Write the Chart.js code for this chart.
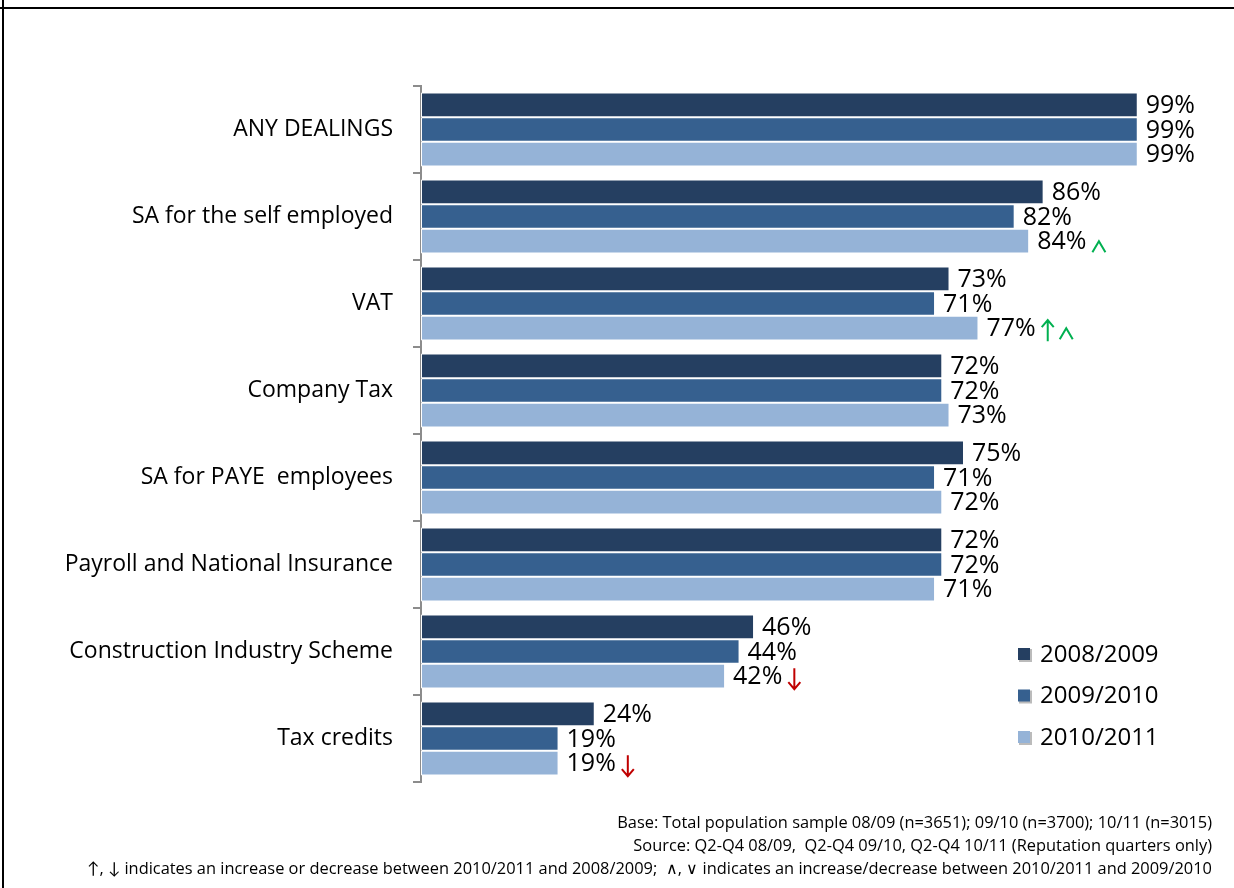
<!DOCTYPE html>
<html>
<head>
<meta charset="utf-8">
<title>Dealings by tax type</title>
<script src="https://cdn.jsdelivr.net/npm/chart.js@4.4.1/dist/chart.umd.min.js"></script>
<style>
  body { margin: 0; background: #fff; font-family: "Open Sans", Lato, sans-serif; }
  #wrap { position: relative; width: 1234px; height: 888px; overflow: hidden; }
  #frameTop { position: absolute; left: 0; top: 7px; width: 1234px; height: 2px; background: #000; }
  #frameLeft { position: absolute; left: 2px; top: 0; width: 2px; height: 888px; background: #000; }
  #notes { position: absolute; right: 22px; top: 810px; text-align: right; font-size: 16.4px; line-height: 23px; color: #000; }
</style>
</head>
<body>
<div id="wrap">
  <canvas id="chart" width="1234" height="888"></canvas>
  <div id="frameTop"></div>
  <div id="frameLeft"></div>
  <div id="notes">
    <div>Base: Total population sample 08/09 (n=3651); 09/10 (n=3700); 10/11 (n=3015)</div>
    <div>Source: Q2-Q4 08/09,&nbsp; Q2-Q4 09/10, Q2-Q4 10/11 (Reputation quarters only)</div>
    <div>↑, ↓ indicates an increase or decrease between 2010/2011 and 2008/2009;&nbsp; ∧, ∨ indicates an increase/decrease between 2010/2011 and 2009/2010</div>
  </div>
</div>
<script>
const categories = [
  'ANY DEALINGS',
  'SA for the self employed',
  'VAT',
  'Company Tax',
  'SA for PAYE  employees',
  'Payroll and National Insurance',
  'Construction Industry Scheme',
  'Tax credits'
];
const years = ['2008/2009', '2009/2010', '2010/2011'];
const y0809 = [99, 86, 73, 72, 75, 72, 46, 24];
const y0910 = [99, 82, 71, 72, 71, 72, 44, 19];
const y1011 = [99, 84, 77, 73, 72, 71, 42, 19];
// significance flags shown after the 2010/2011 labels
// U/D = arrow vs 2008/2009, u/d = chevron vs 2009/2010
const change1011 = ['', 'u', 'Uu', '', '', '', 'D', 'D'];

const colors = ['#253F61', '#36608F', '#95B3D7'];
const FONT = '"Open Sans", Lato, sans-serif';

function drawFlag(ctx, kind, x, y) {
  const up = kind === 'U' || kind === 'u';
  ctx.strokeStyle = up ? '#00B050' : '#C00000';
  ctx.lineWidth = 2;
  ctx.beginPath();
  if (kind === 'U' || kind === 'D') {
    const tip = up ? y - 10 : y + 11;
    const tail = up ? y + 11 : y - 10;
    const dir = up ? 1 : -1;
    ctx.moveTo(x + 6, tail); ctx.lineTo(x + 6, tip);
    ctx.moveTo(x, tip + dir * 7); ctx.lineTo(x + 6, tip); ctx.lineTo(x + 12, tip + dir * 7);
    ctx.stroke();
    return 18;
  }
  if (up) {
    ctx.moveTo(x, y + 9); ctx.lineTo(x + 6.5, y - 2); ctx.lineTo(x + 13, y + 9);
  } else {
    ctx.moveTo(x, y - 2); ctx.lineTo(x + 6.5, y + 9); ctx.lineTo(x + 13, y - 2);
  }
  ctx.stroke();
  return 18;
}

const valueLabels = {
  id: 'valueLabels',
  afterDatasetsDraw(chart) {
    const ctx = chart.ctx;
    ctx.save();
    ctx.textBaseline = 'middle';
    chart.data.datasets.forEach((ds, di) => {
      const meta = chart.getDatasetMeta(di);
      meta.data.forEach((bar, i) => {
        const txt = ds.data[i] + '%';
        ctx.font = '25px ' + FONT;
        ctx.fillStyle = '#000';
        ctx.textAlign = 'left';
        const x = bar.x + 8;
        ctx.fillText(txt, x, bar.y + 1);
        if (di === 2 && change1011[i]) {
          let cx = x + ctx.measureText(txt).width + 6;
          for (const ch of change1011[i]) {
            cx += drawFlag(ctx, ch, cx, bar.y + 2);
          }
        }
      });
    });
    ctx.restore();
  }
};

const sideLegend = {
  id: 'sideLegend',
  afterDraw(chart) {
    const ctx = chart.ctx;
    ctx.save();
    ctx.textBaseline = 'middle';
    ctx.font = '24px ' + FONT;
    chart.data.datasets.forEach((ds, di) => {
      const cy = 654 + di * 41.5;
      ctx.fillStyle = '#bbb';
      ctx.fillRect(1019, cy - 5, 13, 13);
      ctx.fillStyle = ds.backgroundColor;
      ctx.fillRect(1018, cy - 6, 12, 12);
      ctx.fillStyle = '#000';
      ctx.fillText(ds.label, 1040, cy + 1);
    });
    ctx.restore();
  }
};

new Chart(document.getElementById('chart'), {
  type: 'bar',
  data: {
    labels: categories,
    datasets: [
      { label: years[0], data: y0809, backgroundColor: colors[0] },
      { label: years[1], data: y0910, backgroundColor: colors[1] },
      { label: years[2], data: y1011, backgroundColor: colors[2] }
    ].map(d => Object.assign(d, {
      borderColor: '#ffffff', borderWidth: 1, borderSkipped: false,
      categoryPercentage: 0.85, barPercentage: 1.0
    }))
  },
  options: {
    indexAxis: 'y',
    responsive: false,
    animation: false,
    layout: { padding: { top: 86, bottom: 106, right: 89, left: 0 } },
    plugins: { legend: { display: false }, tooltip: { enabled: false } },
    scales: {
      x: { display: false, min: 0, max: 100 },
      y: {
        afterFit(scale) { scale.width = 421; },
        border: { color: '#8c8c8c', width: 2 },
        grid: { drawOnChartArea: false, tickLength: 8, color: '#8c8c8c', lineWidth: 2 },
        ticks: { padding: 20, color: '#000', font: { family: FONT, size: 23 } }
      }
    }
  },
  plugins: [valueLabels, sideLegend]
});
</script>
</body>
</html>
